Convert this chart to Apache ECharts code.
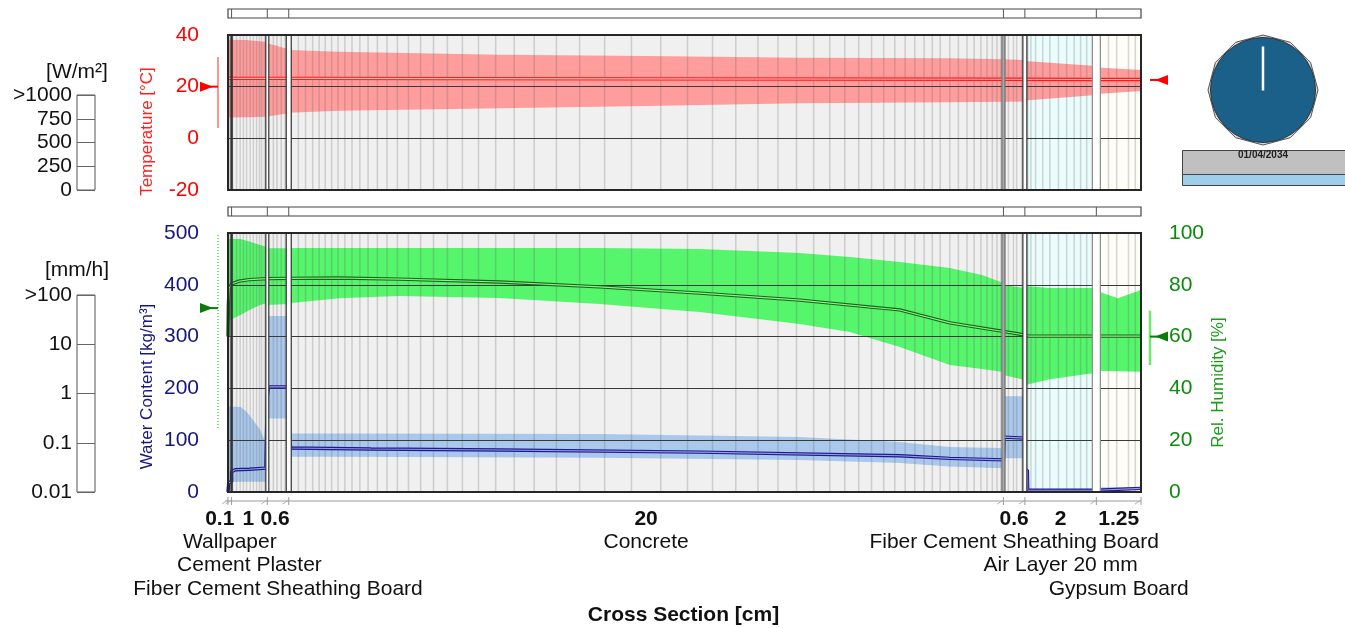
<!DOCTYPE html>
<html>
<head>
<meta charset="utf-8">
<script src="https://cdn.jsdelivr.net/npm/echarts@6/dist/echarts.min.js"></script>
<style>
  html, body { margin: 0; padding: 0; background: #ffffff; }
  #chart { width: 1345px; height: 628px; }
</style>
</head>
<body>
<div id="chart"></div>
<script>
// ---- wall build-up (left to right) ----
const layerNames = ['Wallpaper', 'Cement Plaster', 'Fiber Cement Sheathing Board', 'Concrete',
                    'Fiber Cement Sheathing Board', 'Air Layer 20 mm', 'Gypsum Board'];
const layerThickness = [0.1, 1, 0.6, 20, 0.6, 2, 1.25];            // cm
const thicknessLabels = ['0.1', '1', '0.6', '20', '0.6', '2', '1.25'];

// numerical grid lines [cm]
const meshLines = [
  0.05, 0.13, 0.24, 0.34, 0.43, 0.52, 0.62, 0.71, 0.80, 0.88, 0.94, 1.02,
  1.27, 1.37, 1.49, 1.60,
  1.75, 1.97, 2.17, 2.37, 2.55, 2.72, 2.90, 3.08, 3.27, 3.47, 3.69, 3.92, 4.18, 4.45,
  4.74, 5.05, 5.39, 5.75, 6.14, 6.56, 7.01, 7.49, 8.01, 8.57, 9.19, 9.84, 10.54, 11.29,
  12.11, 12.86, 13.56, 14.21, 14.83, 15.39, 15.91, 16.39, 16.84, 17.26, 17.65, 18.01,
  18.35, 18.66, 18.95, 19.22, 19.48, 19.71, 19.93, 20.20, 20.44, 20.68, 20.88, 21.07,
  21.24, 21.39, 21.52, 21.63,
  21.75, 21.84, 21.98, 22.07, 22.21,
  22.38, 22.47, 22.60, 22.80, 23.00, 23.24, 23.47, 23.68, 23.86, 24.03,
  24.64, 24.87, 25.20, 25.39
];

// temperature envelope [°C]; a repeated depth starts a new layer
const tempDepth = [0, 0.5, 1.1, 1.1, 1.7, 1.7, 3.1, 7.6, 11.7, 16.0, 20.2, 21.7, 21.7, 22.3, 22.3, 24.3, 24.3, 25.55];
const tempMin   = [8.1, 8.2, 8.4, 8.5, 9.7, 9.9, 10.7, 11.6, 12.5, 13.6, 14.0, 14.2, 14.2, 14.3, 14.6, 16.8, 17.2, 18.3];
const tempMax   = [38.2, 38.1, 37.3, 36.8, 34.5, 34.2, 33.5, 32.4, 31.9, 31.2, 31.0, 30.6, 30.6, 30.3, 29.9, 28.0, 27.4, 26.5];

// relative humidity envelope [%]
const rhDepth = [0, 0.35, 0.6, 0.9, 1.1, 1.1, 1.7, 1.7, 3.1, 4.8, 7.6, 10.4, 13.2, 16.0, 17.4, 18.8, 20.2, 21.1, 21.7,
                 21.7, 22.3, 22.3, 23.0, 24.3, 24.3, 24.9, 25.55];
const rhMin = [66.0, 68.3, 70.3, 72.2, 73.0, 72.2, 72.6, 72.9, 74.8, 75.7, 74.9, 72.6, 69.5, 64.9, 61.8, 56.0, 49.0, 47.5, 46.3,
               45.2, 43.2, 41.3, 43.5, 46.0, 46.8, 46.6, 46.4];
const rhMax = [97.7, 97.7, 96.7, 95.4, 94.6, 94.1, 94.1, 94.2, 94.2, 94.2, 94.2, 94.2, 93.8, 92.3, 90.7, 88.8, 86.5, 83.8, 80.7,
               79.9, 78.8, 79.5, 78.8, 78.8, 77.7, 74.8, 78.0];

// water content envelope [kg/m³]
const wcDepth = [0, 0.35, 0.52, 0.7, 0.9, 1.02, 1.1, 1.1, 1.7, 1.7, 3.1, 10.4, 16.0, 18.8, 20.2, 21.7, 21.7, 22.3, 22.3, 24.3, 24.3, 25.55];
const wcMin = [20, 20, 20, 20, 20, 20, 20, 142, 142, 68, 68, 66, 62, 56, 49, 46, 65, 65, 0, 0, 4, 4];
const wcMax = [165, 164, 155, 139, 120, 100, 95, 340, 340, 113, 113, 112, 106, 96.5, 87, 85, 185, 185, 2, 2, 9, 9];

// current profiles
const tempNowDepth = [0, 1.1, 1.7, 11.7, 21.7, 24.3, 25.55];
const tempNow      = [23.2, 23.2, 23.2, 23.0, 22.9, 22.8, 22.8];
const rhNowDepth = [0, 0.01, 0.03, 0.1, 0.3, 0.6, 1.1, 1.7, 3.1, 4.8, 7.6, 10.4, 13.2, 16.0, 18.8, 20.2, 21.7, 22.3, 22.4, 24.3, 25.55];
const rhNow      = [60, 72, 78.6, 80.3, 81.4, 82.0, 82.4, 82.5, 82.6, 82.2, 81.1, 79.2, 76.8, 74.1, 70.3, 65.3, 62.0, 60.6, 60.2, 60.2, 60.2];
const wcNowDepth = [0, 0.02, 0.1, 0.1, 0.2, 0.6, 1.06, 1.08, 1.1, 1.13, 1.7, 1.7, 1.76, 4.0, 7.6, 13.2, 18.8, 20.2, 21.7, 21.72,
                    22.3, 22.3, 22.37, 22.38, 24.3, 24.3, 25.55];
const wcNow      = [0, 18, 20, 39, 43, 44, 46, 120, 184, 203, 203, 104, 85, 83, 81, 77, 70, 65, 62, 106,
                    104, 42, 42, 3.5, 3.5, 7, 7];

// surface climates
const leftTemp = 20, leftTempSpan = [4, 31.5];
const rightTemp = 22.6;
const leftRH = 71, leftRHSpan = [24.7, 100];
const rightRH = 60, rightRHSpan = [49, 70];

// side scales
const radiationTicks = ['0', '250', '500', '750', '>1000'];
const rainTicks = ['0.01', '0.1', '1', '10', '>100'];
const dateText = '01/04/2034';

// ---- styling ----
const FONT = "'Liberation Sans', Arial, Helvetica, sans-serif";
const layerFill = ['#f0f0f0', '#f2f2f2', '#f0f0f0', '#f0f0f0', '#f3f3f3', '#ebfcfc', '#fffdf8'];
const nameRows = [0, 1, 2, 0, 0, 1, 2];
const labelShift = [-10, -1, -3, 0, 0, 0, 0];
const stripW = [1.2, 3, 5, 3, 4, 8];
const stripFill = ['#333333', '#ffffff', '#ffffff', '#a8a8a8', '#ffffff', '#ffffff'];
const stripEdge = ['#333333', '#333333', '#333333', '#777777', '#333333', '#8a8a8a'];
const RED = '#ff0000', NAVY = '#17177d', GREEN = '#0c8a0c';

const layerEdges = [0];
layerThickness.forEach(t => layerEdges.push(+(layerEdges[layerEdges.length - 1] + t).toFixed(3)));
const totalDepth = layerEdges[layerEdges.length - 1];
const innerEdges = layerEdges.slice(1, -1);

function splitSegments(depth, lo, hi) {
  const segs = [];
  let cur = [];
  depth.forEach((d, i) => {
    if (i > 0 && d === depth[i - 1]) { segs.push(cur); cur = []; }
    cur.push([d, lo[i], hi[i]]);
  });
  segs.push(cur);
  return segs;
}

function txt(text, font, fill, align, valign) {
  return { text, font, fill, align, textAlign: align, verticalAlign: valign, textVerticalAlign: valign };
}

function layerBgSeries(g) {
  return {
    type: 'custom', xAxisIndex: g, yAxisIndex: g, z: 1, silent: true,
    data: layerThickness.map((t, i) => [layerEdges[i], layerEdges[i + 1]]),
    renderItem(params, api) {
      const cs = params.coordSys;
      const x0 = api.coord([api.value(0), 0])[0];
      const x1 = api.coord([api.value(1), 0])[0];
      return { type: 'rect', shape: { x: x0, y: cs.y, width: x1 - x0, height: cs.height },
               style: { fill: layerFill[params.dataIndex] } };
    }
  };
}

function meshSeries(g) {
  return {
    type: 'custom', xAxisIndex: g, yAxisIndex: g, z: 3, silent: true,
    data: meshLines.map(d => [d, 0]),
    renderItem(params, api) {
      const cs = params.coordSys;
      const x = api.coord([api.value(0), 0])[0];
      return { type: 'line', shape: { x1: x, y1: cs.y, x2: x, y2: cs.y + cs.height },
               style: { stroke: 'rgba(100,100,100,0.25)', lineWidth: 1.5 } };
    }
  };
}

function bandSeries(xi, yi, depth, lo, hi, fill) {
  const segs = splitSegments(depth, lo, hi);
  return {
    type: 'custom', xAxisIndex: xi, yAxisIndex: yi, z: 2, silent: true,
    data: segs.map(s => [s[0][0], s[0][1]]),
    renderItem(params, api) {
      const seg = segs[params.dataIndex];
      const pts = seg.map(p => api.coord([p[0], p[2]]));
      for (let k = seg.length - 1; k >= 0; k--) pts.push(api.coord([seg[k][0], seg[k][1]]));
      return { type: 'polygon', shape: { points: pts }, style: { fill } };
    }
  };
}

function profileSeries(xi, yi, depth, values, outer, inner) {
  const data = depth.map((d, i) => [d, values[i]]);
  const base = { type: 'line', xAxisIndex: xi, yAxisIndex: yi, z: 5, silent: true,
                 symbol: 'none', animation: false, data };
  return [
    Object.assign({}, base, { lineStyle: { color: outer, width: 3.4 } }),
    Object.assign({}, base, { lineStyle: { color: inner, width: 1.1 } })
  ];
}

function stripSeries(g) {
  return {
    type: 'custom', xAxisIndex: g, yAxisIndex: g, z: 6, silent: true,
    data: innerEdges.map(d => [d, 0]),
    renderItem(params, api) {
      const cs = params.coordSys;
      const i = params.dataIndex;
      const x = api.coord([api.value(0), 0])[0];
      const w = stripW[i];
      return { type: 'rect', shape: { x: x - w / 2, y: cs.y, width: w, height: cs.height },
               style: { fill: stripFill[i], stroke: stripEdge[i], lineWidth: 1.2 } };
    }
  };
}

function headerSeries(g) {
  return {
    type: 'custom', xAxisIndex: g, yAxisIndex: g, z: 6, silent: true,
    data: [[0, 0]],
    renderItem(params, api) {
      const cs = params.coordSys;
      const top = cs.y - 26, bot = cs.y - 17;
      const children = [{ type: 'rect', shape: { x: cs.x, y: top, width: cs.width, height: bot - top },
                          style: { fill: '#ffffff', stroke: '#444', lineWidth: 1.2 } }];
      innerEdges.forEach(d => {
        const x = api.coord([d, 0])[0];
        children.push({ type: 'line', shape: { x1: x, y1: top, x2: x, y2: bot },
                        style: { stroke: '#555', lineWidth: 1 } });
      });
      return { type: 'group', children };
    }
  };
}

function frameSeries(g) {
  return {
    type: 'custom', xAxisIndex: g, yAxisIndex: g, z: 7, silent: true,
    data: [[0, 0]],
    renderItem(params) {
      const cs = params.coordSys;
      return { type: 'rect', shape: { x: cs.x, y: cs.y, width: cs.width, height: cs.height },
               style: { fill: null, stroke: '#262626', lineWidth: 2 } };
    }
  };
}

function markerGroup(cs, api, yL, span, yR, spanR, color, spanColor, dotted) {
  const xl = cs.x, xr = cs.x + cs.width;
  const children = [];
  if (span) {
    children.push({ type: 'line', shape: { x1: xl - 10, y1: span[0], x2: xl - 10, y2: span[1] },
                    style: { stroke: spanColor, lineWidth: 2, lineDash: dotted ? [1, 2] : null } });
  }
  children.push({ type: 'line', shape: { x1: xl - 27, y1: yL, x2: xl - 10, y2: yL }, style: { stroke: color, lineWidth: 2 } });
  children.push({ type: 'polygon', shape: { points: [[xl - 28, yL - 5], [xl - 28, yL + 5], [xl - 15, yL]] }, style: { fill: color } });
  if (spanR) {
    children.push({ type: 'line', shape: { x1: xr + 9, y1: spanR[0], x2: xr + 9, y2: spanR[1] },
                    style: { stroke: spanColor, lineWidth: 2.5 } });
  }
  children.push({ type: 'line', shape: { x1: xr + 9, y1: yR, x2: xr + 26, y2: yR }, style: { stroke: color, lineWidth: 2 } });
  children.push({ type: 'polygon', shape: { points: [[xr + 27, yR - 5], [xr + 27, yR + 5], [xr + 14, yR]] }, style: { fill: color } });
  return { type: 'group', children };
}

const tempMarkers = {
  type: 'custom', xAxisIndex: 0, yAxisIndex: 0, z: 7, silent: true, data: [[0, 0]],
  renderItem(params, api) {
    const y = v => api.coord([0, v])[1];
    return markerGroup(params.coordSys, api, y(leftTemp), [y(leftTempSpan[0]), y(leftTempSpan[1])],
                       y(rightTemp), null, RED, '#ff9494', false);
  }
};
const rhMarkers = {
  type: 'custom', xAxisIndex: 1, yAxisIndex: 2, z: 7, silent: true, data: [[0, 0]],
  renderItem(params, api) {
    const y = v => api.coord([0, v])[1];
    return markerGroup(params.coordSys, api, y(leftRH), [y(leftRHSpan[0]), y(leftRHSpan[1])],
                       y(rightRH), [y(rightRHSpan[0]), y(rightRHSpan[1])], '#0a7a0a', '#6ee86e', true);
  }
};

// depth scale under the lower plot
const depthAxis = {
  type: 'custom', xAxisIndex: 1, yAxisIndex: 1, z: 7, silent: true, data: [[0, 0]],
  renderItem(params, api) {
    const cs = params.coordSys;
    const yb = cs.y + cs.height + 9;
    const children = [{ type: 'line', shape: { x1: cs.x - 3, y1: yb, x2: cs.x + cs.width, y2: yb },
                        style: { stroke: '#9a9a9a', lineWidth: 1 } }];
    layerEdges.forEach(d => {
      const x = api.coord([d, 0])[0];
      children.push({ type: 'line', shape: { x1: x, y1: yb - 4, x2: x, y2: yb + 4 }, style: { stroke: '#9a9a9a', lineWidth: 1 } });
      children.push({ type: 'line', shape: { x1: x - 6, y1: yb + 3, x2: x, y2: yb - 1 }, style: { stroke: '#b0b0b0', lineWidth: 1 } });
    });
    return { type: 'group', children };
  }
};

const layerLabels = {
  type: 'custom', xAxisIndex: 1, yAxisIndex: 1, z: 7, silent: true,
  data: layerThickness.map((t, i) => [(layerEdges[i] + layerEdges[i + 1]) / 2, 0]),
  renderItem(params, api) {
    const i = params.dataIndex;
    const cs = params.coordSys;
    const x = api.coord([api.value(0), 0])[0];
    const base = cs.y + cs.height;
    return { type: 'group', children: [
      { type: 'text', x: x + labelShift[i], y: base + 27,
        style: txt(thicknessLabels[i], 'bold 21px ' + FONT, '#111', 'center', 'middle') },
      { type: 'text', x: x, y: base + 50 + nameRows[i] * 23.7,
        style: txt(layerNames[i], '21px ' + FONT, '#111', 'center', 'middle') }
    ] };
  }
};

// clock face
const dodecagon = [];
for (let k = 0; k < 12; k++) {
  const a = k * Math.PI / 6;
  dodecagon.push([1263 + 55 * Math.sin(a), 90 - 55 * Math.cos(a)]);
}

const chart = echarts.init(document.getElementById('chart'), null, { renderer: 'canvas' });

const valueAxisBase = {
  type: 'value', z: 4,
  axisLine: { show: false }, axisTick: { show: false },
  splitLine: { show: true, lineStyle: { color: '#3a3a3a', width: 1.1 } }
};

const option = {
  animation: false,
  backgroundColor: '#ffffff',
  grid: [
    { left: 228, top: 35, width: 913, height: 155 },
    { left: 228, top: 233, width: 913, height: 259 },
    { left: 77, top: 95, width: 18, height: 95, show: true, borderColor: '#555', borderWidth: 1, backgroundColor: '#ffffff' },
    { left: 77, top: 295, width: 18, height: 197, show: true, borderColor: '#555', borderWidth: 1, backgroundColor: '#ffffff' }
  ],
  xAxis: [
    { gridIndex: 0, type: 'value', min: 0, max: totalDepth, show: false },
    { gridIndex: 1, type: 'value', min: 0, max: totalDepth, show: false },
    { gridIndex: 2, type: 'value', min: 0, max: 1, show: false },
    { gridIndex: 3, type: 'value', min: 0, max: 1, show: false }
  ],
  yAxis: [
    Object.assign({}, valueAxisBase, { gridIndex: 0, min: -20, max: 40, interval: 20,
      axisLabel: { color: RED, fontSize: 21, fontFamily: FONT, margin: 29 } }),
    Object.assign({}, valueAxisBase, { gridIndex: 1, min: 0, max: 500, interval: 100,
      axisLabel: { color: NAVY, fontSize: 21, fontFamily: FONT, margin: 29 } }),
    Object.assign({}, valueAxisBase, { gridIndex: 1, position: 'right', min: 0, max: 100, interval: 20,
      splitLine: { show: false },
      axisLabel: { color: GREEN, fontSize: 21, fontFamily: FONT, margin: 28 } }),
    { gridIndex: 2, type: 'category', data: radiationTicks, boundaryGap: false,
      axisLine: { show: false }, axisTick: { show: false },
      axisLabel: { interval: 0, color: '#111', fontSize: 21, fontFamily: FONT, margin: 5 },
      splitLine: { show: true, interval: 0, lineStyle: { color: '#666', width: 1 } },
      name: '[W/m²]', nameLocation: 'end', nameGap: 12,
      nameTextStyle: { color: '#111', fontSize: 21, fontFamily: FONT, align: 'center', verticalAlign: 'bottom' } },
    { gridIndex: 3, type: 'category', data: rainTicks, boundaryGap: false,
      axisLine: { show: false }, axisTick: { show: false },
      axisLabel: { interval: 0, color: '#111', fontSize: 21, fontFamily: FONT, margin: 5 },
      splitLine: { show: true, interval: 0, lineStyle: { color: '#666', width: 1 } },
      name: '[mm/h]', nameLocation: 'end', nameGap: 14,
      nameTextStyle: { color: '#111', fontSize: 21, fontFamily: FONT, align: 'center', verticalAlign: 'bottom' } }
  ],
  series: [
    layerBgSeries(0), layerBgSeries(1),
    bandSeries(0, 0, tempDepth, tempMin, tempMax, '#ff9c9c'),
    bandSeries(1, 2, rhDepth, rhMin, rhMax, '#55f56c'),
    bandSeries(1, 1, wcDepth, wcMin, wcMax, '#a9c8ec'),
    meshSeries(0), meshSeries(1),
    ...profileSeries(0, 0, tempNowDepth, tempNow, '#ff1a1a', '#ffb4b4'),
    ...profileSeries(1, 2, rhNowDepth, rhNow, '#0b6d0b', '#9fe39f'),
    ...profileSeries(1, 1, wcNowDepth, wcNow, '#1b1b8e', '#9a9ae8'),
    stripSeries(0), stripSeries(1),
    headerSeries(0), headerSeries(1),
    frameSeries(0), frameSeries(1),
    tempMarkers, rhMarkers,
    depthAxis, layerLabels
  ],
  graphic: [
    { type: 'text', x: 147, y: 131.5, rotation: Math.PI / 2,
      style: txt('Temperature [°C]', '17px ' + FONT, '#ff2020', 'center', 'middle') },
    { type: 'text', x: 147, y: 386.5, rotation: Math.PI / 2,
      style: txt('Water Content [kg/m³]', '17px ' + FONT, NAVY, 'center', 'middle') },
    { type: 'text', x: 1218, y: 382.5, rotation: Math.PI / 2,
      style: txt('Rel. Humidity [%]', '17px ' + FONT, '#1c9a1c', 'center', 'middle') },
    { type: 'text', x: 683.5, y: 615,
      style: txt('Cross Section [cm]', 'bold 21px ' + FONT, '#111', 'center', 'middle') },
    { type: 'polygon', shape: { points: dodecagon }, style: { fill: '#dadada', stroke: '#555', lineWidth: 1 } },
    { type: 'circle', shape: { cx: 1263, cy: 90, r: 52.5 }, style: { fill: '#1b6088', stroke: '#333', lineWidth: 1 } },
    { type: 'line', shape: { x1: 1263, y1: 46.5, x2: 1263, y2: 90.5 }, style: { stroke: '#ffffff', lineWidth: 2.5 } },
    { type: 'rect', shape: { x: 1182.5, y: 150.5, width: 170, height: 24 }, style: { fill: '#c0c0c0', stroke: '#444', lineWidth: 1 } },
    { type: 'text', x: 1263, y: 155, style: txt(dateText, 'bold 10px ' + FONT, '#222', 'center', 'middle') },
    { type: 'rect', shape: { x: 1182.5, y: 174.5, width: 170, height: 11 }, style: { fill: '#9dcfea', stroke: '#444', lineWidth: 1 } }
  ]
};

chart.setOption(option);
</script>
</body>
</html>
